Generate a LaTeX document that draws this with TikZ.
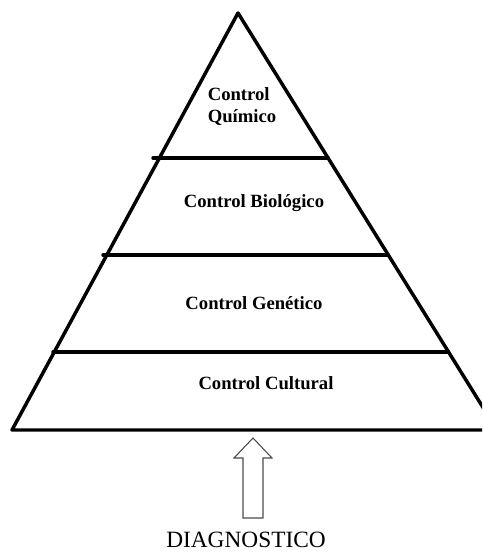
\documentclass[tikz,border=0pt]{standalone}
\usepackage{fontspec}
\setmainfont{Liberation Serif}
\usepackage{tikz}

\begin{document}
\begin{tikzpicture}[x=0.75pt, y=-0.75pt,
    level/.style={font=\bfseries\fontsize{14}{16.5}\selectfont, align=center},
    edge/.style={line width=2.6pt, line cap=round, line join=round}]
            \useasboundingbox (0, 0) rectangle (482, 552);
            \clip (0, 0) rectangle (482, 552);

            \coordinate (top) at (238, 13);
            \coordinate (bl) at (12, 430);
            \coordinate (br) at (497, 430);

            \coordinate (q1) at (153, 158);
            \coordinate (q2) at (328, 158);
            \coordinate (b1) at (103, 255);
            \coordinate (b2) at (388, 255);
            \coordinate (g1) at (53, 352);
            \coordinate (g2) at (448, 352);

            \draw[edge] (bl) -- (top) -- (br) -- cycle; % outer triangle
            \draw[edge] (q1) -- (q2); % quimico / biologico
            \draw[edge] (b1) -- (b2); % biologico / genetico
            \draw[edge] (g1) -- (g2); % genetico / cultural

            \node[level, align=left] (quim) at (242, 107) {Control\\Químico};
            \node[level] (biol) at (254, 203) {Control Biológico};
            \node[level] (gene) at (254, 303) {Control Genético};
            \node[level] (cult) at (266, 383) {Control Cultural};

            % hollow arrow
            \draw[line width=0.8pt, draw=black!70, fill=white]
                (253, 438) -- (272, 458) -- (263, 458) -- (263, 518)
                -- (243, 518) -- (243, 458) -- (234, 458) -- cycle;
            \node[font=\fontsize{17.5}{20}\selectfont] (diag) at (246, 540) {DIAGNOSTICO};
        \end{tikzpicture}
\end{document}
